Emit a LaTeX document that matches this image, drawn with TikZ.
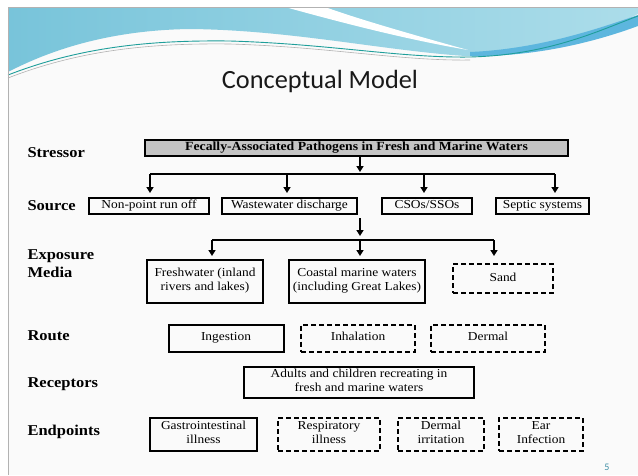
\documentclass[tikz,border=0pt]{standalone}
\usepackage{fontspec}
\setmainfont{Liberation Serif}[FakeStretch=1.1]
\newfontfamily\titlefont{Carlito}
\usetikzlibrary{arrows.meta}

\definecolor{wavedark}{HTML}{78C4DA}
\definecolor{wavelight}{HTML}{ACDDEA}
\definecolor{wavedeep}{HTML}{5DB6DE}
\definecolor{waveline}{HTML}{1E9E9A}
\definecolor{stressgray}{HTML}{C4C4C4}
\definecolor{pagenum}{HTML}{3F8FA5}

\begin{document}
\begin{tikzpicture}[x=1pt,y=-1pt,
    lbl/.style={anchor=base west,align=left,font=\fontsize{15}{18}\selectfont\bfseries},
    box/.style={draw,line width=2pt,inner sep=0pt,align=center,font=\fontsize{12.2}{14}\selectfont,
        execute at begin node=\strut,execute at end node=\strut},
    dbox/.style={box,dash pattern=on 5pt off 3pt},
    arr/.style={line width=2pt,-{Triangle[length=6pt,width=7pt]}},
    bus/.style={line width=2pt}]
    % slide and header wave
    \fill[white] (0,0) rectangle (638,475);
    \useasboundingbox (0,0) rectangle (638,475);
    \fill[black!2] (8,7) rectangle (638,475);
    \shade[left color=wavedark,right color=wavelight] (8,7) -- (638,7) -- (638,14)
        .. controls (600,32) and (540,58) .. (465,56)
        .. controls (380,50) and (290,30) .. (190,29)
        .. controls (120,30) and (60,45) .. (8,72) -- cycle;
    \fill[white] (285,7) .. controls (350,25) and (410,40) .. (468,50)
        .. controls (410,34) and (355,18) .. (325,7) -- cycle;
    \fill[wavedeep] (470,52) .. controls (540,49) and (600,28) .. (638,15) -- (638,26)
        .. controls (600,40) and (540,57) .. (470,56) -- cycle;
    \draw[gray!60,line width=0.6pt] (8,78) .. controls (80,50) and (150,43) .. (230,44)
        .. controls (330,47) and (400,61) .. (470,60);
    \draw[waveline,line width=0.9pt] (8,75) .. controls (80,47) and (150,40) .. (230,41)
        .. controls (330,44) and (400,58) .. (470,57)
        .. controls (550,55) and (600,30) .. (638,16);
    \draw[gray!60,line width=1pt] (8,475) -- (8,7) -- (638,7);
    \node[font=\titlefont\fontsize{26.3}{30}\selectfont,text=black!90,anchor=base] (title) at (320,88) {Conceptual Model};

    % row labels
    \node[lbl] (lstress) at (24,157) {Stressor};
    \node[lbl] (lsource) at (24,210) {Source};
    \node[lbl] (lmedia) at (24,277) {Exposure\\Media};
    \node[lbl] (lroute) at (24,340) {Route};
    \node[lbl] (lrecept) at (24,387) {Receptors};
    \node[lbl] (lend) at (24,435) {Endpoints};

    % boxes
    \node[box,fill=stressgray,minimum width=423pt,minimum height=16pt,font=\fontsize{12.5}{14}\selectfont\bfseries] (stress) at (356.5,148) {Fecally-Associated Pathogens in Fresh and Marine Waters};

    \node[box,minimum width=120pt,minimum height=16pt] (nps) at (149,206) {Non-point run off};
    \node[box,minimum width=135pt,minimum height=16pt] (wwd) at (289.5,206) {Wastewater discharge};
    \node[box,minimum width=90pt,minimum height=16pt] (cso) at (427,206) {CSOs/SSOs};
    \node[box,minimum width=93pt,minimum height=16pt] (sep) at (542.5,206) {Septic systems};

    \node[box,minimum width=116pt,minimum height=43pt] (fresh) at (205,281.5) {Freshwater (inland\\rivers and lakes)};
    \node[box,minimum width=136pt,minimum height=43pt] (coast) at (357,281.5) {Coastal marine waters\\(including Great Lakes)};
    \node[dbox,minimum width=100pt,minimum height=29pt] (sand) at (503,278.5) {Sand};

    \node[box,minimum width=115pt,minimum height=27pt] (ingest) at (226,338) {Ingestion};
    \node[dbox,minimum width=114pt,minimum height=27pt] (inhal) at (358,338) {Inhalation};
    \node[dbox,minimum width=114pt,minimum height=27pt] (dermal) at (488,338) {Dermal};

    \node[box,minimum width=230pt,minimum height=31pt] (recept) at (359,382.5) {Adults and children recreating in\\fresh and marine waters};

    \node[box,minimum width=107pt,minimum height=33pt] (gastro) at (203.5,434.5) {Gastrointestinal\\illness};
    \node[dbox,minimum width=102pt,minimum height=33pt] (resp) at (329,434.5) {Respiratory\\illness};
    \node[dbox,minimum width=86pt,minimum height=33pt] (irrit) at (441,434.5) {Dermal\\irritation};
    \node[dbox,minimum width=84pt,minimum height=33pt] (ear) at (541,434.5) {Ear\\Infection};

    % stressor to sources
    \coordinate (b1) at (360,174);
    \draw[arr,shorten >=2pt] (stress.south -| b1) -- (b1);
    \draw[bus] (150,174) -- (555,174);
    \foreach \n/\x in {nps/150,wwd/287,cso/424,sep/555}{
        \coordinate (t\n) at (\x,174);
        \draw[arr,shorten >=4pt] (t\n) -- (t\n |- \n.north);
    }

    % sources to exposure media
    \coordinate (m0) at (360,218);
    \coordinate (b2) at (360,240);
    \draw[arr,shorten >=4pt] (m0) -- (b2);
    \draw[bus] (212,240) -- (494,240);
    \foreach \n/\x/\s in {fresh/212/3,coast/360/3,sand/494/7}{
        \coordinate (t\n) at (\x,240);
        \draw[arr,shorten >=\s pt] (t\n) -- (t\n |- \n.north);
    }

    \node[font=\titlefont\fontsize{10}{11}\selectfont,text=pagenum] (pg) at (607,467) {5};
\end{tikzpicture}
\end{document}
